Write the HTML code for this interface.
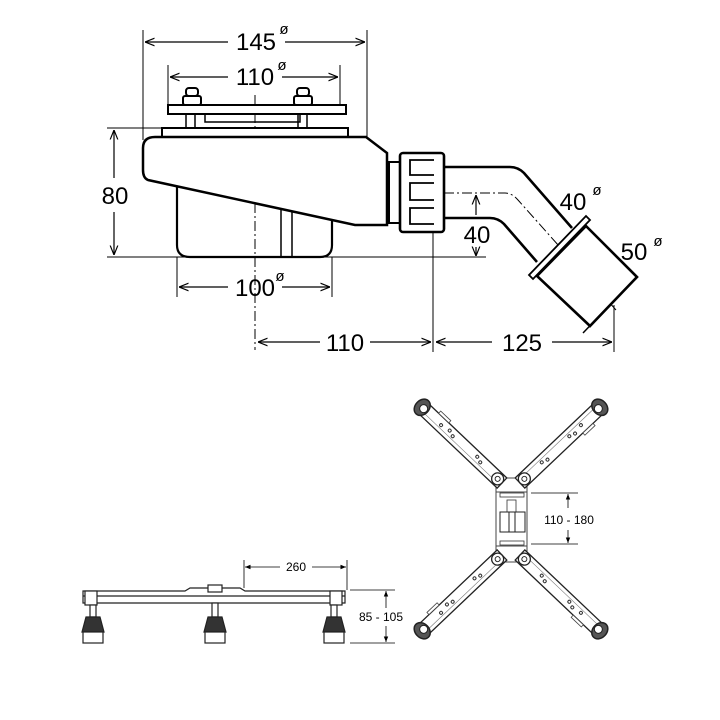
<!DOCTYPE html>
<html><head><meta charset="utf-8"><style>
html,body{margin:0;padding:0;background:#fff;}
svg{display:block}
text{font-family:"Liberation Sans",sans-serif;fill:#000}
</style></head><body>
<svg width="720" height="720" viewBox="0 0 720 720" xmlns="http://www.w3.org/2000/svg">
<defs>
<marker id="a" viewBox="0 0 10 10" refX="10" refY="5" markerWidth="8" markerHeight="8" orient="auto-start-reverse"><path d="M0,1 L10,5 L0,9" fill="none" stroke="#000" stroke-width="1.2"/></marker>
<marker id="f" viewBox="0 0 10 10" refX="10" refY="5" markerWidth="7" markerHeight="7" orient="auto-start-reverse"><path d="M0,1 L10,5 L0,9 z" fill="#000"/></marker>
<g id="arm">
<rect x="0" y="-7" width="110" height="14" fill="#fff" stroke="#222" stroke-width="1.3"/>
<line x1="0" y1="-3" x2="110" y2="-3" stroke="#777" stroke-width="0.6"/>
<circle cx="30" cy="0" r="1.5" fill="none" stroke="#333"/><circle cx="36" cy="2" r="1.5" fill="none" stroke="#333"/>
<circle cx="68" cy="0" r="1.5" fill="none" stroke="#333"/><circle cx="74" cy="2" r="1.5" fill="none" stroke="#333"/>
<circle cx="84" cy="0" r="1.5" fill="none" stroke="#333"/>
<rect x="80" y="7" width="14" height="3" fill="#fff" stroke="#444" stroke-width="0.8"/>
<circle cx="6" cy="0" r="6" fill="#fff" stroke="#222" stroke-width="1.3"/><circle cx="6" cy="0" r="2.5" fill="none" stroke="#222"/>
<ellipse cx="110" cy="0" rx="7" ry="9" fill="#555" stroke="#222" stroke-width="1.5"/><circle cx="108" cy="0" r="4" fill="#fff" stroke="#222"/>
</g>
</defs>
<g fill="none" stroke="#000">
<line x1="143" y1="30" x2="143" y2="140" stroke-width="1"/>
<line x1="367" y1="30" x2="367" y2="140" stroke-width="1"/>
<line x1="145" y1="42" x2="228" y2="42" stroke-width="1.2" marker-start="url(#a)"/>
<line x1="285" y1="42" x2="365" y2="42" stroke-width="1.2" marker-end="url(#a)"/>
<line x1="168" y1="65" x2="168" y2="105" stroke-width="1"/>
<line x1="340" y1="65" x2="340" y2="105" stroke-width="1"/>
<line x1="170" y1="77" x2="228" y2="77" stroke-width="1.2" marker-start="url(#a)"/>
<line x1="282" y1="77" x2="338" y2="77" stroke-width="1.2" marker-end="url(#a)"/>
<line x1="255" y1="95" x2="255" y2="350" stroke-width="1" stroke-dasharray="10,3,2,3"/>
<rect x="168" y="105" width="178" height="9" stroke-width="2" fill="#fff"/>
<path d="M205,114 L205,122 L300,122 L300,114" stroke-width="1.5"/>
<rect x="183" y="96" width="18" height="9" rx="2" stroke-width="2" fill="#fff"/>
<rect x="186" y="88" width="12" height="8" rx="3" stroke-width="2" fill="#fff"/>
<rect x="294" y="96" width="18" height="9" rx="2" stroke-width="2" fill="#fff"/>
<rect x="297" y="88" width="12" height="8" rx="3" stroke-width="2" fill="#fff"/>
<rect x="186" y="114" width="9" height="14" stroke-width="1.5"/>
<rect x="298" y="114" width="9" height="14" stroke-width="1.5"/>
<rect x="162" y="128" width="186" height="9" stroke-width="2" fill="#fff"/>
<path d="M177,178 L177,245 Q177,257 190,257 L320,257 Q332,257 332,245 L332,210" stroke-width="2.2"/>
<line x1="281" y1="210" x2="281" y2="257" stroke-width="1.5"/>
<line x1="292" y1="210" x2="292" y2="257" stroke-width="1.5"/>
<path d="M155,137 L366,137 L387,153 L387,225 L355,225 L148,180 Q143,178 143,170 L143,148 Q143,137 155,137 Z" stroke-width="2.5" fill="#fff"/>
<line x1="107" y1="128" x2="162" y2="128" stroke-width="1"/>
<line x1="107" y1="257" x2="486" y2="257" stroke-width="1"/>
<line x1="114" y1="130" x2="114" y2="178" stroke-width="1.2" marker-start="url(#a)"/>
<line x1="114" y1="212" x2="114" y2="255" stroke-width="1.2" marker-end="url(#a)"/>
<rect x="389" y="162" width="11" height="61" stroke-width="2" fill="#fff"/>
<rect x="400" y="153" width="44" height="79" rx="3" stroke-width="2.6" fill="#fff"/>
<path d="M434,160 L410,160 L410,175 L434,175 M434,183 L410,183 L410,200 L434,200 M434,208 L410,208 L410,224 L434,224" stroke-width="1.8"/>
<path d="M444,167 L510,167 Q518,167 524,173 L572,228" stroke-width="2.6"/>
<path d="M444,218 L490,218 Q498,218 504,224 L537,262" stroke-width="2.6"/>
<path d="M444,193 L505,193 Q512,193 518,200 L616,310" stroke-width="1" stroke-dasharray="10,3,2,3"/>
<path d="M590,220 L533,279 L529,275 L586,216 Z" stroke-width="1.8" fill="#fff"/>
<path d="M586,226 L637,277 L590,326 L537,276 Z" stroke-width="2.6" fill="#fff"/>
<line x1="630" y1="284" x2="583" y2="333" stroke-width="1.5"/>
<line x1="476" y1="195" x2="476" y2="215" stroke-width="1.2" marker-start="url(#a)"/>
<line x1="476" y1="247" x2="476" y2="256" stroke-width="1.2" marker-end="url(#a)"/>
<line x1="177" y1="257" x2="177" y2="297" stroke-width="1"/>
<line x1="332" y1="257" x2="332" y2="297" stroke-width="1"/>
<line x1="179" y1="287" x2="228" y2="287" stroke-width="1.2" marker-start="url(#a)"/>
<line x1="282" y1="287" x2="330" y2="287" stroke-width="1.2" marker-end="url(#a)"/>
<line x1="433" y1="232" x2="433" y2="352" stroke-width="1"/>
<line x1="614" y1="305" x2="614" y2="352" stroke-width="1"/>
<line x1="258" y1="342" x2="320" y2="342" stroke-width="1.2" marker-start="url(#a)"/>
<line x1="370" y1="342" x2="431" y2="342" stroke-width="1.2" marker-end="url(#a)"/>
<line x1="436" y1="342" x2="492" y2="342" stroke-width="1.2" marker-start="url(#a)"/>
<line x1="552" y1="342" x2="612" y2="342" stroke-width="1.2" marker-end="url(#a)"/>
</g>
<g font-size="24" text-anchor="middle">
<text x="256" y="50">145</text><text x="284" y="34" font-size="15">ø</text>
<text x="255" y="85">110</text><text x="282" y="70" font-size="15">ø</text>
<text x="255" y="296">100</text><text x="280" y="281" font-size="15">ø</text>
<text x="115" y="204">80</text>
<text x="477" y="243">40</text>
<text x="573" y="210">40</text><text x="597" y="195" font-size="15">ø</text>
<text x="634" y="260">50</text><text x="658" y="246" font-size="15">ø</text>
<text x="345" y="351">110</text>
<text x="522" y="351">125</text>
</g>
<g fill="#fff" stroke="#222" stroke-width="1.2">
<path d="M83,591 L185,591 L190,588 L240,588 L245,591 L345,591 L345,603 L83,603 Z"/>
<line x1="83" y1="596" x2="345" y2="596"/>
<rect x="85" y="591" width="12" height="14"/><rect x="330" y="591" width="12" height="14"/>
<rect x="208" y="585" width="14" height="7"/>
<rect x="90" y="605" width="6" height="12"/><rect x="212" y="603" width="6" height="14"/><rect x="331" y="605" width="6" height="12"/>
<path d="M86,617 L100,617 L104,632 L82,632 Z" fill="#333"/>
<path d="M208,617 L222,617 L226,632 L204,632 Z" fill="#333"/>
<path d="M327,617 L341,617 L345,632 L323,632 Z" fill="#333"/>
<rect x="83" y="632" width="20" height="11"/><rect x="205" y="632" width="20" height="11"/><rect x="324" y="632" width="20" height="11"/>
</g>
<g stroke="#000" fill="none" stroke-width="0.8">
<line x1="244" y1="560" x2="244" y2="588"/><line x1="347" y1="560" x2="347" y2="590"/>
<line x1="245" y1="567" x2="280" y2="567" marker-start="url(#f)"/><line x1="312" y1="567" x2="346" y2="567" marker-end="url(#f)"/>
<line x1="350" y1="590" x2="395" y2="590"/><line x1="350" y1="643" x2="395" y2="643"/>
<line x1="386" y1="591" x2="386" y2="608" marker-start="url(#f)"/><line x1="386" y1="626" x2="386" y2="642" marker-end="url(#f)"/>
<line x1="531" y1="493" x2="578" y2="493"/><line x1="531" y1="544" x2="578" y2="544"/>
<line x1="568" y1="494" x2="568" y2="508" marker-start="url(#f)"/><line x1="568" y1="530" x2="568" y2="543" marker-end="url(#f)"/>
</g>
<g font-size="12" text-anchor="middle">
<text x="296" y="571">260</text>
<text x="381" y="621">85 - 105</text>
<text x="569" y="524">110 - 180</text>
</g>
<g>
<rect x="496" y="478" width="31" height="84" fill="#fff" stroke="#444" stroke-width="1"/>
<use href="#arm" transform="translate(502,483) rotate(-136.5)"/>
<use href="#arm" transform="translate(520,483) rotate(-43.5)"/>
<use href="#arm" transform="translate(502,555) rotate(136.5)"/>
<use href="#arm" transform="translate(520,555) rotate(43.5)"/>
<rect x="496" y="492" width="31" height="54" fill="#fff" stroke="#444" stroke-width="1"/>
<rect x="500" y="493" width="24" height="4" fill="none" stroke="#333" stroke-width="0.8"/>
<rect x="500" y="541" width="24" height="4" fill="none" stroke="#333" stroke-width="0.8"/>
<rect x="507" y="500" width="9" height="12" fill="none" stroke="#333" stroke-width="0.8"/>
<rect x="500" y="512" width="25" height="20" fill="none" stroke="#222" stroke-width="1"/>
<line x1="509" y1="512" x2="509" y2="532" stroke="#222"/><line x1="515" y1="512" x2="515" y2="532" stroke="#222"/>
</g>
</svg>
</body></html>
